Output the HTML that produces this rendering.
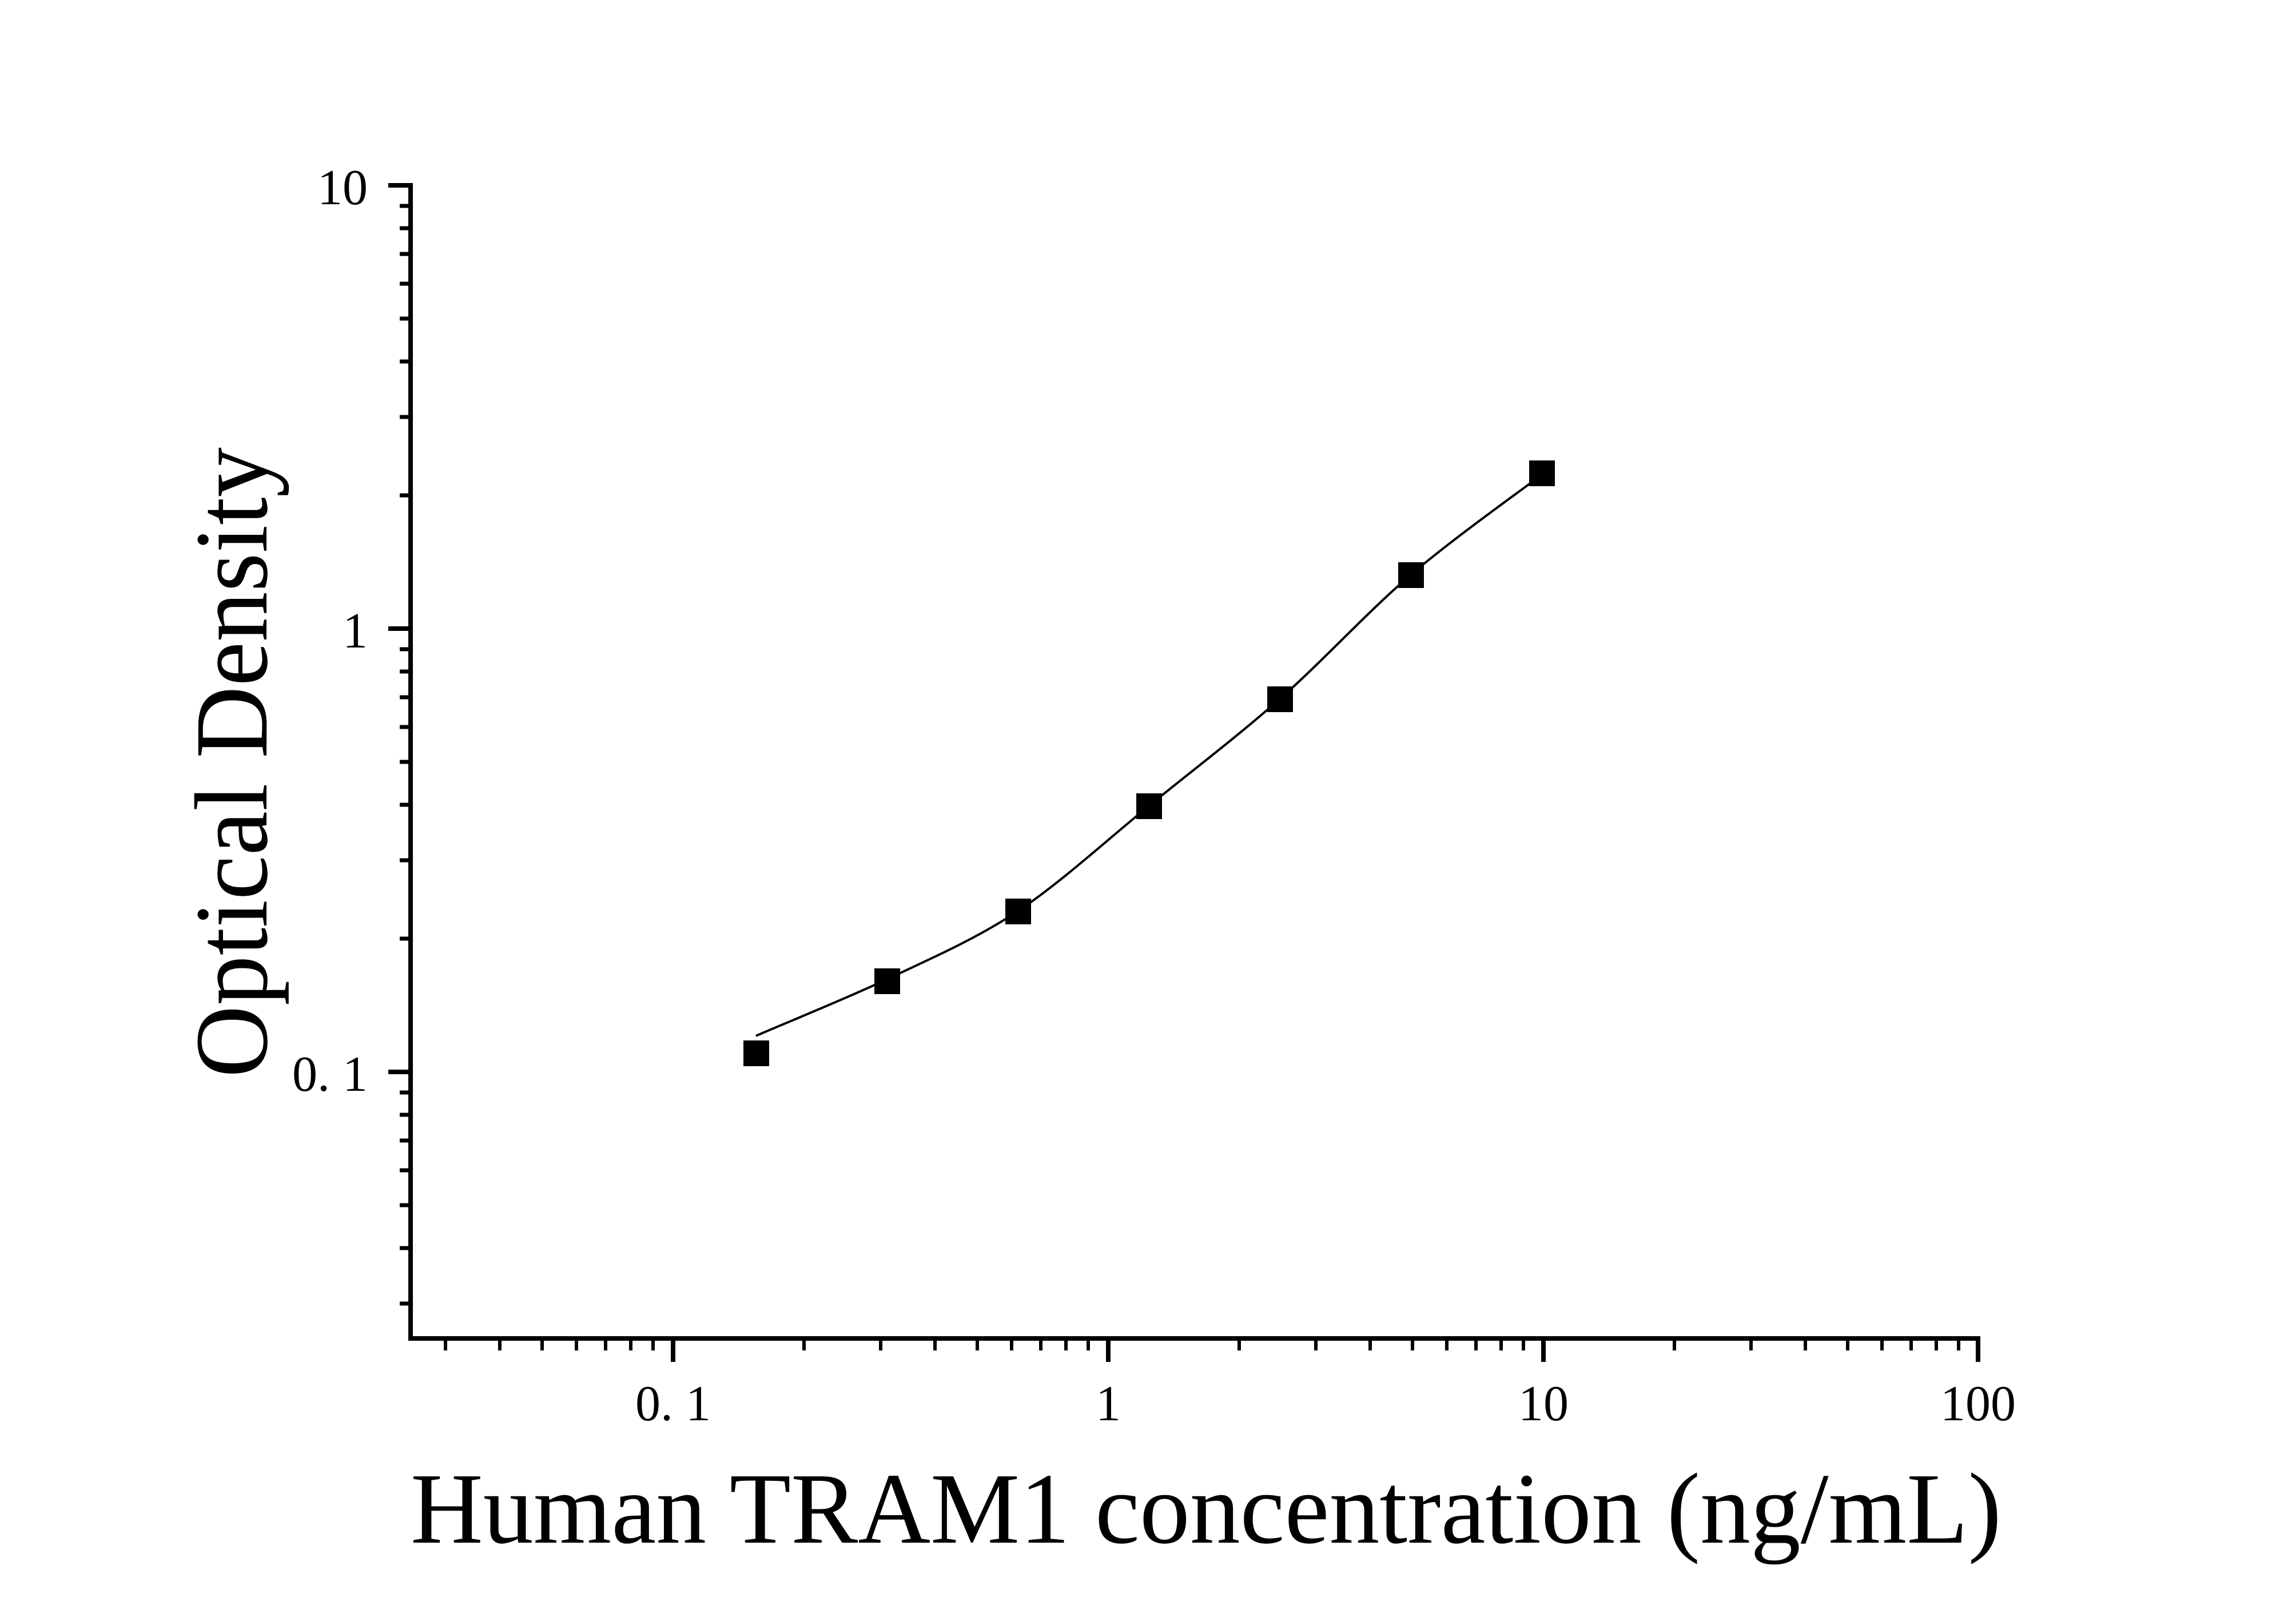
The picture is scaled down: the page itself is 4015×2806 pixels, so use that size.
<!DOCTYPE html>
<html><head><meta charset="utf-8"><style>html,body{margin:0;padding:0;background:#fff}svg{display:block}</style></head>
<body>
<svg width="4015" height="2806" viewBox="0 0 4015 2806" xmlns="http://www.w3.org/2000/svg" font-family="Liberation Serif, serif">
<rect width="4015" height="2806" fill="#fff"/>
<g stroke="#000" fill="none">
<line x1="718" y1="320" x2="718" y2="2344" stroke-width="8"/>
<line x1="714" y1="2340" x2="3463" y2="2340" stroke-width="8"/>
<g stroke-width="8">
<line x1="679" y1="324" x2="718" y2="324"/>
<line x1="679" y1="1099" x2="718" y2="1099"/>
<line x1="679" y1="1874" x2="718" y2="1874"/>
</g>
<g stroke-width="7">
<line x1="699" y1="360" x2="718" y2="360"/><line x1="699" y1="399" x2="718" y2="399"/><line x1="699" y1="444" x2="718" y2="444"/><line x1="699" y1="496" x2="718" y2="496"/><line x1="699" y1="557" x2="718" y2="557"/><line x1="699" y1="632" x2="718" y2="632"/><line x1="699" y1="729" x2="718" y2="729"/><line x1="699" y1="866" x2="718" y2="866"/>
<line x1="699" y1="1135" x2="718" y2="1135"/><line x1="699" y1="1174" x2="718" y2="1174"/><line x1="699" y1="1219" x2="718" y2="1219"/><line x1="699" y1="1271" x2="718" y2="1271"/><line x1="699" y1="1332" x2="718" y2="1332"/><line x1="699" y1="1407" x2="718" y2="1407"/><line x1="699" y1="1504" x2="718" y2="1504"/><line x1="699" y1="1641" x2="718" y2="1641"/>
<line x1="699" y1="1910" x2="718" y2="1910"/><line x1="699" y1="1949" x2="718" y2="1949"/><line x1="699" y1="1994" x2="718" y2="1994"/><line x1="699" y1="2046" x2="718" y2="2046"/><line x1="699" y1="2107" x2="718" y2="2107"/><line x1="699" y1="2182" x2="718" y2="2182"/><line x1="699" y1="2279" x2="718" y2="2279"/>
</g>
<g stroke-width="8">
<line x1="1177" y1="2340" x2="1177" y2="2381"/>
<line x1="1938" y1="2340" x2="1938" y2="2381"/>
<line x1="2699" y1="2340" x2="2699" y2="2381"/>
<line x1="3459" y1="2340" x2="3459" y2="2381"/>
</g>
<g stroke-width="6">
<line x1="779" y1="2340" x2="779" y2="2361"/><line x1="874" y1="2340" x2="874" y2="2361"/><line x1="948" y1="2340" x2="948" y2="2361"/><line x1="1008" y1="2340" x2="1008" y2="2361"/><line x1="1059" y1="2340" x2="1059" y2="2361"/><line x1="1103" y1="2340" x2="1103" y2="2361"/><line x1="1142" y1="2340" x2="1142" y2="2361"/>
<line x1="1406" y1="2340" x2="1406" y2="2361"/><line x1="1540" y1="2340" x2="1540" y2="2361"/><line x1="1635" y1="2340" x2="1635" y2="2361"/><line x1="1709" y1="2340" x2="1709" y2="2361"/><line x1="1769" y1="2340" x2="1769" y2="2361"/><line x1="1820" y1="2340" x2="1820" y2="2361"/><line x1="1864" y1="2340" x2="1864" y2="2361"/><line x1="1903" y1="2340" x2="1903" y2="2361"/>
<line x1="2167" y1="2340" x2="2167" y2="2361"/><line x1="2301" y1="2340" x2="2301" y2="2361"/><line x1="2396" y1="2340" x2="2396" y2="2361"/><line x1="2470" y1="2340" x2="2470" y2="2361"/><line x1="2530" y1="2340" x2="2530" y2="2361"/><line x1="2581" y1="2340" x2="2581" y2="2361"/><line x1="2625" y1="2340" x2="2625" y2="2361"/><line x1="2664" y1="2340" x2="2664" y2="2361"/>
<line x1="2928" y1="2340" x2="2928" y2="2361"/><line x1="3062" y1="2340" x2="3062" y2="2361"/><line x1="3157" y1="2340" x2="3157" y2="2361"/><line x1="3231" y1="2340" x2="3231" y2="2361"/><line x1="3291" y1="2340" x2="3291" y2="2361"/><line x1="3342" y1="2340" x2="3342" y2="2361"/><line x1="3386" y1="2340" x2="3386" y2="2361"/><line x1="3425" y1="2340" x2="3425" y2="2361"/>
</g>
<path d="M1322,1811 C1360,1794 1475,1748 1551,1712 C1627,1676 1704,1643 1780,1593 C1856,1542 1933,1471 2009,1409 C2085,1347 2162,1289 2238,1222 C2314,1155 2391,1070 2467,1005 C2543,940 2658,859 2696,830" stroke-width="4"/>
</g>
<g fill="#000">
<rect x="1300" y="1819" width="45" height="45"/>
<rect x="1529" y="1693" width="45" height="45"/>
<rect x="1758" y="1571" width="45" height="45"/>
<rect x="1987" y="1387" width="45" height="45"/>
<rect x="2216" y="1200" width="45" height="45"/>
<rect x="2445" y="983" width="45" height="45"/>
<rect x="2674" y="805" width="45" height="45"/>
</g>
<g font-size="88" fill="#000">
<text x="643" y="357" text-anchor="end">10</text>
<text x="643" y="1132" text-anchor="end">1</text>
<text x="643" y="1907" text-anchor="end">0. 1</text>
<text x="1177" y="2483" text-anchor="middle">0. 1</text>
<text x="1938" y="2483" text-anchor="middle">1</text>
<text x="2699" y="2483" text-anchor="middle">10</text>
<text x="3459" y="2483" text-anchor="middle">100</text>
</g>
<text x="2109" y="2697" font-size="177" text-anchor="middle" textLength="2782" lengthAdjust="spacingAndGlyphs">Human TRAM1 concentration (ng/mL)</text>
<text transform="translate(466,1333) rotate(-90)" x="0" y="0" font-size="182" text-anchor="middle" textLength="1102" lengthAdjust="spacingAndGlyphs">Optical Density</text>
</svg>
</body></html>
